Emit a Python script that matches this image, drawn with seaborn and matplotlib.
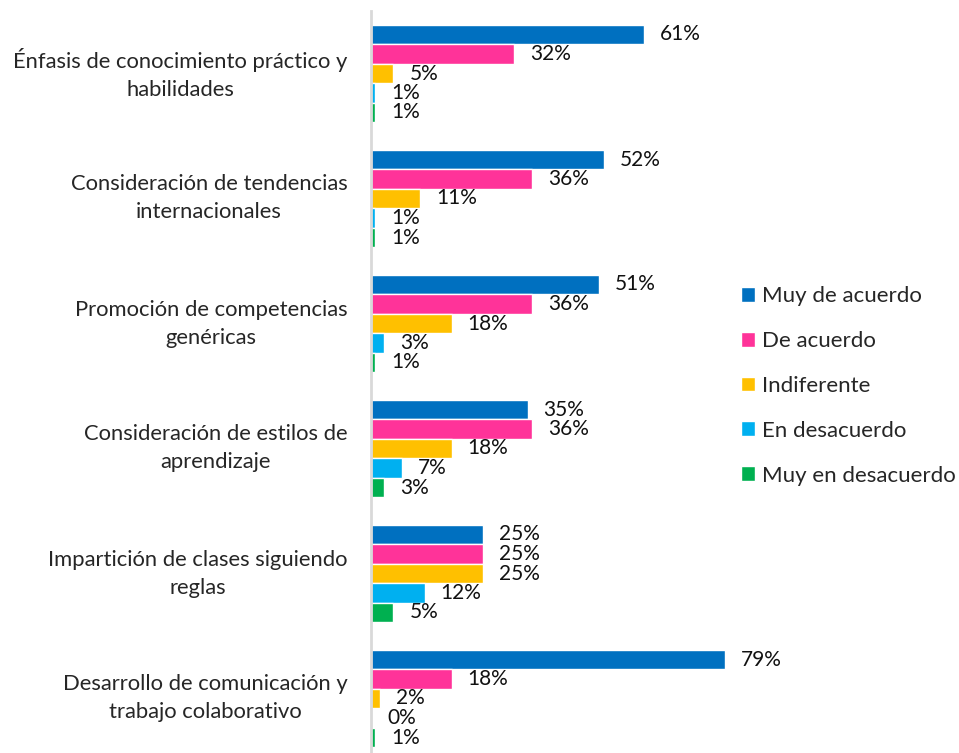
import pandas as pd
import numpy as np
import matplotlib.pyplot as plt
import seaborn as sns

categories = [
    "Énfasis de conocimiento práctico y\nhabilidades",
    "Consideración de tendencias\ninternacionales",
    "Promoción de competencias\ngenéricas",
    "Consideración de estilos de\naprendizaje",
    "Impartición de clases siguiendo\nreglas",
    "Desarrollo de comunicación y\ntrabajo colaborativo",
]
series = ["Muy de acuerdo", "De acuerdo", "Indiferente", "En desacuerdo", "Muy en desacuerdo"]
muy_de_acuerdo = [61, 52, 51, 35, 25, 79]
de_acuerdo = [32, 36, 36, 36, 25, 18]
indiferente = [5, 11, 18, 18, 25, 2]
en_desacuerdo = [1, 1, 3, 7, 12, 0]
muy_en_desacuerdo = [1, 1, 1, 3, 5, 1]
colors = ["#0070C0", "#FF3399", "#FFC000", "#00B0F0", "#00B050"]

values = [muy_de_acuerdo, de_acuerdo, indiferente, en_desacuerdo, muy_en_desacuerdo]
df = pd.DataFrame(
    [(c, s, v[i]) for s, v in zip(series, values) for i, c in enumerate(categories)],
    columns=["categoria", "respuesta", "pct"],
)

sns.set_style("white")
plt.rcParams["font.family"] = ["Lato", "DejaVu Sans"]

fig = plt.figure(figsize=(9.59, 7.53), dpi=100)
ax = fig.add_axes([371 / 959, -8 / 753, 358 / 959, 750 / 753])

sns.barplot(data=df, y="categoria", x="pct", hue="respuesta", order=categories,
            hue_order=series, palette=colors, orient="h", width=0.78,
            saturation=1, ax=ax, legend=True)

for cont, vals in zip(ax.containers, values):
    ax.bar_label(cont, labels=[f"{v}%" for v in vals], padding=11.5,
                 fontsize=15, color="#111111")

ax.set_xlim(0, 80)
ax.set_ylim(5.5, -0.5)
ax.set_xlabel("")
ax.set_ylabel("")
ax.set_xticks([])
ax.tick_params(axis="y", length=0, pad=17, labelsize=15.8)
for lab in ax.get_yticklabels():
    lab.set_multialignment("center")
    lab.set_linespacing(1.5)
    lab.set_verticalalignment("center")

for side in ["top", "right", "bottom"]:
    ax.spines[side].set_visible(False)
ax.spines["left"].set_color("#D9D9D9")
ax.spines["left"].set_linewidth(2)

leg = ax.legend(loc="upper left", bbox_to_anchor=(741 / 959, 1 - 286 / 753),
                bbox_transform=fig.transFigure, frameon=False, fontsize=16,
                handlelength=0.65, handleheight=0.65, handletextpad=0.3,
                labelspacing=1.12, borderaxespad=0, borderpad=0)

fig.savefig("out.png", dpi=100)
